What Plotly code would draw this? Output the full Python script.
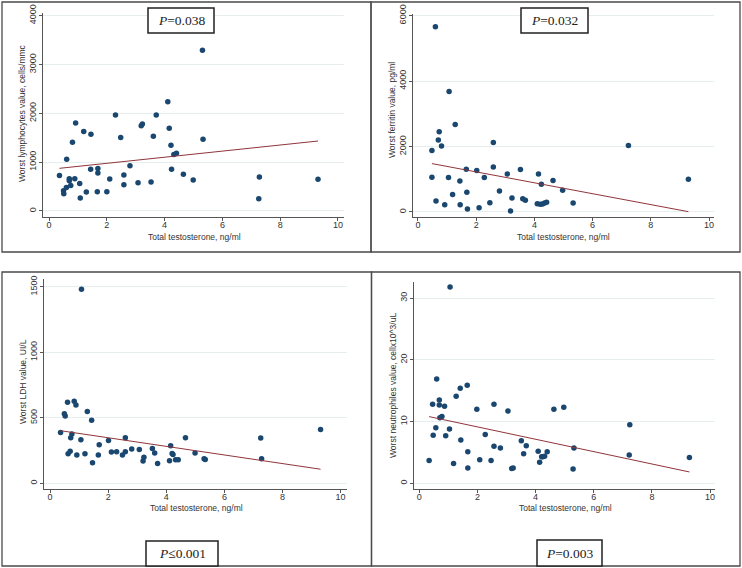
import plotly.graph_objects as go

W, H = 742, 568

# Total testosterone (ng/ml) vs worst lab values, one list pair per panel
lymph_x = [0.36, 0.50, 0.51, 0.61, 0.60, 0.70, 0.70, 0.75, 0.81, 0.89, 0.92, 1.06, 1.08, 1.20,
           1.29, 1.45, 1.44, 1.67, 1.69, 1.69, 2.00, 2.10, 2.30, 2.48, 2.59, 2.59, 2.80, 3.08,
           3.19, 3.23, 3.53, 3.61, 3.71, 4.11, 4.16, 4.22, 4.24, 4.32, 4.41, 4.65, 4.99, 5.31,
           5.33, 7.28, 7.26, 9.31]
lymph_y = [728, 415, 354, 1061, 483, 660, 620, 524, 1408, 660, 1803, 565, 265, 1626,
           388, 1571, 857, 395, 871, 776, 395, 653, 1966, 1503, 735, 537, 925, 578,
           1748, 1782, 592, 1531, 1966, 2238, 1694, 1347, 857, 1156, 1184, 755, 633, 3293,
           1469, 696, 253, 648]
lymph_fit_x = [0.36, 9.31]
lymph_fit_y = [874, 1433]

ferritin_x = [0.60, 0.48, 0.48, 0.62, 0.70, 0.73, 0.81, 0.92, 1.07, 1.05, 1.19, 1.28, 1.44, 1.45,
              1.66, 1.68, 1.70, 2.02, 2.10, 2.28, 2.47, 2.59, 2.59, 2.80, 3.07, 3.18, 3.23, 3.52,
              3.60, 3.69, 4.14, 4.10, 4.20, 4.24, 4.28, 4.35, 4.42, 4.64, 4.97, 5.33, 7.23, 9.29]
ferritin_y = [5663, 1878, 1061, 337, 2204, 2449, 2020, 224, 3684, 1051, 531, 2673, 949, 224,
              1306, 602, 92, 1265, 133, 1051, 286, 2122, 1378, 643, 1163, 31, 429, 1296,
              408, 357, 1163, 255, 235, 847, 245, 276, 296, 959, 663, 276, 2031, 1000]
ferritin_fit_x = [0.48, 9.29]
ferritin_fit_y = [1480, 10]

ldh_x = [1.08, 0.36, 0.49, 0.52, 0.60, 0.62, 0.69, 0.71, 0.75, 0.83, 0.89, 0.92, 1.06, 1.20,
         1.28, 1.43, 1.46, 1.66, 1.69, 2.01, 2.11, 2.29, 2.49, 2.59, 2.59, 2.81, 3.07, 3.20,
         3.23, 3.52, 3.60, 3.70, 4.11, 4.15, 4.20, 4.23, 4.32, 4.41, 4.66, 4.99, 5.30, 5.34,
         7.25, 7.28, 9.31]
ldh_y = [1480, 388, 531, 514, 618, 225, 245, 348, 376, 626, 598, 215, 332, 225,
         547, 480, 156, 215, 294, 327, 238, 240, 215, 240, 348, 261, 258, 169,
         199, 266, 230, 151, 171, 286, 227, 220, 179, 179, 348, 230, 187, 181,
         345, 187, 411]
ldh_fit_x = [0.36, 9.31]
ldh_fit_y = [401, 107]

neut_x = [1.06, 0.34, 0.46, 0.48, 0.57, 0.60, 0.69, 0.69, 0.71, 0.78, 0.87, 0.91, 1.04, 1.18,
          1.27, 1.41, 1.43, 1.65, 1.67, 1.67, 1.98, 2.08, 2.27, 2.47, 2.57, 2.57, 2.79, 3.05,
          3.18, 3.23, 3.51, 3.59, 3.68, 4.09, 4.14, 4.21, 4.25, 4.31, 4.40, 4.63, 4.97, 5.29,
          5.32, 7.24, 7.22, 9.29]
neut_y = [31.8, 3.7, 12.8, 7.8, 9.0, 16.9, 13.5, 12.7, 10.6, 10.8, 12.5, 7.7, 8.8, 3.2,
          14.1, 15.4, 7.0, 15.9, 5.1, 2.5, 12.0, 3.8, 7.9, 3.7, 12.8, 6.0, 5.7, 11.7,
          2.4, 2.5, 6.9, 4.8, 6.1, 5.2, 3.4, 4.3, 4.3, 4.4, 5.1, 12.0, 12.3, 2.3,
          5.7, 9.5, 4.6, 4.2]
neut_fit_x = [0.34, 9.29]
neut_fit_y = [10.8, 1.84]

x_title = "Total testosterone, ng/ml"
y_titles = ["Worst lymphocytes value, cells/mmc", "Worst ferritin value, pg/ml",
            "Worst LDH value, UI/L", "Worst neutrophiles value, cellx10^3/uL"]
p_labels = ["<i>P</i>=0.038", "<i>P</i>=0.032", "<i>P</i>≤0.001", "<i>P</i>=0.003"]
y_dticks = [1000, 2000, 500, 10]

MARKER = "#1a476f"
FIT = "#90353b"
TEXT = "#333333"
SANS = "Liberation Sans, Arial"


def px_x(v):
    return v / W


def px_y(v):
    return 1 - v / H


# pixel boxes of each plot area, axis ranges, and title anchor points
panels = [
    dict(xd=(43, 344), yd=(13, 217), xr=(-0.21, 10.21), yr=(-123, 4055),
         xt=(195, 237), yt=(22, 113)),
    dict(xd=(413, 714), yd=(14, 217), xr=(-0.17, 10.17), yr=(-153, 6052),
         xt=(563, 237), yt=(392, 110)),
    dict(xd=(44, 347), yd=(279, 489), xr=(-0.21, 10.22), yr=(-44, 1559),
         xt=(196, 508), yt=(23, 382)),
    dict(xd=(414, 715), yd=(282, 489), xr=(-0.18, 10.17), yr=(-0.92, 32.6),
         xt=(565, 508), yt=(393, 386)),
]
series = [
    (lymph_x, lymph_y, lymph_fit_x, lymph_fit_y),
    (ferritin_x, ferritin_y, ferritin_fit_x, ferritin_fit_y),
    (ldh_x, ldh_y, ldh_fit_x, ldh_fit_y),
    (neut_x, neut_y, neut_fit_x, neut_fit_y),
]

fig = go.Figure()
layout = {}
annotations = []

for i, (p, (sx, sy, fx, fy)) in enumerate(zip(panels, series)):
    n = "" if i == 0 else str(i + 1)
    fig.add_trace(go.Scatter(
        x=sx, y=sy, mode="markers", xaxis="x" + n, yaxis="y" + n,
        marker=dict(size=5.5, color=MARKER), showlegend=False,
    ))
    fig.add_trace(go.Scatter(
        x=fx, y=fy, mode="lines", xaxis="x" + n, yaxis="y" + n,
        line=dict(color=FIT, width=1), showlegend=False,
    ))
    axis_common = dict(
        showline=True, linecolor="#555555", linewidth=1,
        ticks="outside", ticklen=3, tickcolor="#555555",
        tickfont=dict(family=SANS, size=9, color=TEXT),
        zeroline=False, automargin=False,
    )
    layout["xaxis" + n] = dict(
        axis_common,
        domain=[px_x(p["xd"][0]), px_x(p["xd"][1])],
        range=list(p["xr"]), dtick=2, tick0=0, showgrid=False,
        ticklabelstandoff=-4,
        anchor="y" + n,
    )
    layout["yaxis" + n] = dict(
        axis_common,
        domain=[px_y(p["yd"][1]), px_y(p["yd"][0])],
        range=list(p["yr"]), dtick=y_dticks[i], tick0=0, tickangle=-90,
        ticklabelstandoff=-1,
        showgrid=True, gridcolor="#e6eef0", gridwidth=1,
        anchor="x" + n,
    )
    # axis titles
    annotations.append(dict(
        xref="paper", yref="paper", x=px_x(p["xt"][0]), y=px_y(p["xt"][1]),
        text=x_title, showarrow=False, xanchor="center", yanchor="middle",
        font=dict(family=SANS, size=8.5, color=TEXT),
    ))
    annotations.append(dict(
        xref="paper", yref="paper", x=px_x(p["yt"][0]), y=px_y(p["yt"][1]),
        text=y_titles[i], showarrow=False, xanchor="center", yanchor="middle",
        textangle=-90, font=dict(family=SANS, size=8.5, color=TEXT),
    ))

shapes = []
# panel frames
for x0, y0, x1, y1 in [(2, 2, 371, 252), (371, 2, 740, 252),
                       (2, 272, 371.5, 566), (371.5, 272, 740, 566)]:
    shapes.append(dict(type="rect", xref="paper", yref="paper",
                       x0=px_x(x0), x1=px_x(x1), y0=px_y(y1), y1=px_y(y0),
                       line=dict(color="#4a4a4a", width=1.3)))

# P-value boxes
boxes = [(148, 8, 214, 33), (521, 8, 588, 33), (146, 541, 218, 566), (537, 540, 602, 566)]
for (x0, y0, x1, y1), lab in zip(boxes, p_labels):
    shapes.append(dict(type="rect", xref="paper", yref="paper",
                       x0=px_x(x0), x1=px_x(x1), y0=px_y(y1), y1=px_y(y0),
                       fillcolor="white", line=dict(color="#222222", width=1.5)))
    annotations.append(dict(
        xref="paper", yref="paper", x=px_x((x0 + x1) / 2), y=px_y((y0 + y1) / 2),
        text=lab, showarrow=False, xanchor="center", yanchor="middle",
        font=dict(family="Liberation Serif, Times New Roman", size=13.5, color="#222222"),
    ))

fig.update_layout(
    **layout,
    shapes=shapes,
    annotations=annotations,
    width=W, height=H,
    margin=dict(l=0, r=0, t=0, b=0, autoexpand=False),
    paper_bgcolor="white",
    plot_bgcolor="white",
    showlegend=False,
)

fig.write_html(
    "out.html",
    config={"displayModeBar": False},
    post_script="document.body.style.margin='0';document.body.style.overflow='hidden';",
)
